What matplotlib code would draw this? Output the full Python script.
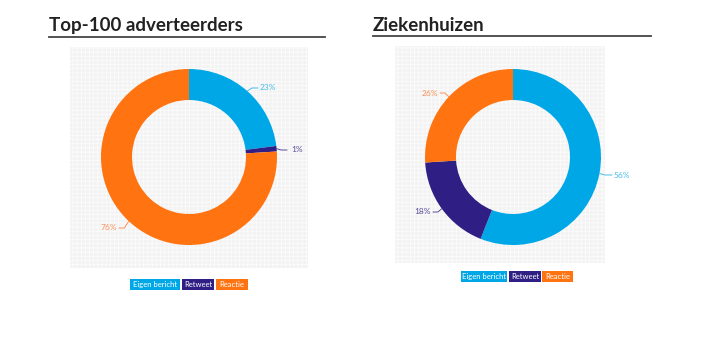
import numpy as np
import matplotlib.pyplot as plt
from matplotlib.patches import Rectangle

plt.rcParams['font.family'] = ['Lato', 'DejaVu Sans']
plt.rcParams['hatch.color'] = '#fdfdfd'
plt.rcParams['hatch.linewidth'] = 0.5

categories = ['Eigen bericht', 'Retweet', 'Reactie']
colors = ['#00a7e7', '#2f1f85', '#ff7311']
label_colors = ['#4cbcec', '#5a4d9c', '#f7925a']
titles = ['Top-100 adverteerders', 'Ziekenhuizen']
values = [[23, 1, 76], [56, 18, 26]]
labels = [['23%', '1%', '76%'], ['56%', '18%', '26%']]

# layout in pixels (image coords, y down)
H = 340
panels = [dict(title_x=49, line=(49, 325, 37), bg=(70, 47, 308, 268), c=(189, 157),
               leg_y=284, leg_x=[130, 182, 216], leg_w=[50, 32, 32],
               lab=[(268, 88), (297, 150), (109, 228)]),
          dict(title_x=373, line=(373, 651, 36), bg=(395, 46, 605, 263), c=(513, 157),
               leg_y=276, leg_x=[461, 509, 542], leg_w=[46, 32, 31],
               lab=[(622, 175), (423, 212), (430, 93)])]

fig = plt.figure(figsize=(7.2, 3.4), dpi=100)
ax = fig.add_axes([0, 0, 1, 1])

for p, title, vals, labs in zip(panels, titles, values, labels):
    x0, y0, x1, y1 = p['bg']
    ax.add_patch(Rectangle((x0, H - y1), x1 - x0, y1 - y0, facecolor='#f3f3f3',
                           hatch='++++', linewidth=0, zorder=0))
    cx, cy = p['c'][0], H - p['c'][1]
    wedges, _ = ax.pie(vals, colors=colors, startangle=90, counterclock=False,
                       center=(cx, cy), radius=88,
                       wedgeprops=dict(width=31, linewidth=0))
    ax.text(p['title_x'], H - 31, title, fontsize=13.5, fontweight='bold',
            color='#222222', va='baseline')
    lx0, lx1, ly = p['line']
    ax.plot([lx0, lx1], [H - ly, H - ly], color='#444444', lw=1.3)

    # leader lines and labels
    for w, lab, (tx, ty), col in zip(wedges, labs, p['lab'], label_colors):
        ang = np.deg2rad((w.theta1 + w.theta2) / 2)
        ex, ey = cx + 88 * np.cos(ang), cy + 88 * np.sin(ang)
        right = tx > cx
        end_x = tx - 10 if right else tx + 10
        mid_x = ex + (end_x - ex) * 0.45
        ty_d = H - ty
        ax.plot([ex, mid_x, end_x], [ey, ty_d, ty_d], color=col, lw=0.7,
                solid_capstyle='round')
        ax.text(tx, ty_d, lab, fontsize=6, color=col, ha='center', va='center')

    # legend boxes
    for name, lx, lw, col in zip(categories, p['leg_x'], p['leg_w'], colors):
        ax.add_patch(Rectangle((lx, H - p['leg_y'] - 6), lw, 11, facecolor=col,
                               linewidth=0))
        ax.text(lx + lw / 2, H - p['leg_y'] - 0.5, name, fontsize=5.5,
                color='white', ha='center', va='center')

ax.set_xlim(0, 720)
ax.set_ylim(0, H)
ax.set_aspect('auto')
ax.axis('off')
fig.savefig('out.png', dpi=100)
